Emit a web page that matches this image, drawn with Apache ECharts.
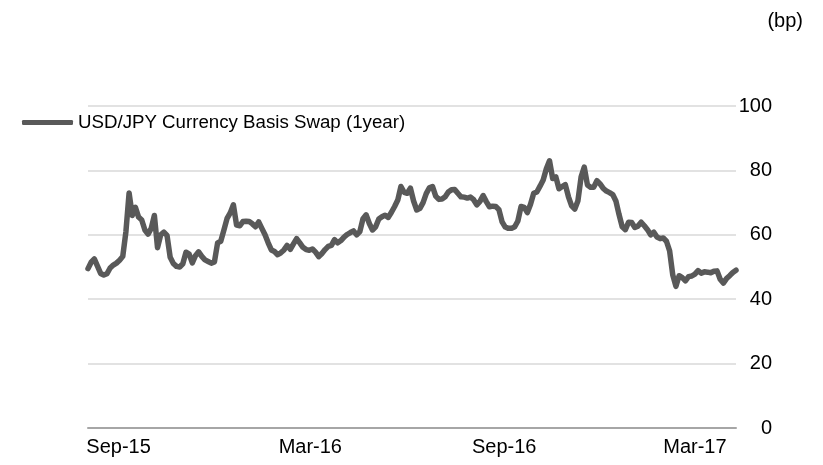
<!DOCTYPE html>
<html>
<head>
<meta charset="utf-8">
<script src="https://cdn.jsdelivr.net/npm/echarts@6/dist/echarts.min.js"></script>
<style>
html,body{margin:0;padding:0;background:#fff;}
#chart{width:823px;height:465px;}
</style>
</head>
<body>
<div id="chart"></div>
<script>
// Series: USD/JPY Currency Basis Swap (1year), in bp, sampled every 3 days from 2015-08-03
const seriesName = 'USD/JPY Currency Basis Swap (1year)';
const startDate = '2015-08-03';
const stepDays = 3;
const basisValues = [
  49.5, 51.5, 52.5, 50.3, 48.0, 47.5, 47.9, 49.7, 50.6, 51.2,
  52.1, 53.3, 61.0, 73.0, 66.0, 68.5, 65.5, 64.6, 61.5, 60.2,
  62.0, 66.0, 56.0, 60.0, 60.8, 59.8, 53.0, 51.1, 50.2, 50.0,
  51.0, 54.6, 54.0, 51.3, 53.5, 54.7, 53.3, 52.2, 51.7, 51.2,
  51.6, 57.5, 58.0, 61.5, 65.1, 66.8, 69.3, 63.0, 62.8, 64.1,
  64.2, 64.1, 63.4, 62.5, 64.0, 62.0, 60.0, 57.5, 55.3, 54.8,
  53.8, 54.4, 55.3, 56.7, 55.5, 57.2, 58.8, 57.5, 56.1, 55.4,
  55.2, 55.6, 54.6, 53.2, 54.2, 55.4, 56.4, 56.7, 58.5, 57.5,
  58.2, 59.3, 60.1, 60.7, 61.2, 60.0, 61.0, 65.0, 66.2, 63.5,
  61.5, 62.5, 64.9, 65.6, 66.1, 65.4, 67.0, 68.8, 70.8, 75.0,
  73.2, 72.9, 74.5, 70.5, 67.7, 68.2, 70.0, 72.8, 74.6, 75.0,
  72.0, 71.0, 71.1, 71.8, 73.3, 74.0, 74.1, 72.9, 71.8, 71.7,
  71.4, 71.7, 70.9, 69.3, 70.4, 72.2, 70.3, 68.7, 68.9, 68.8,
  67.8, 64.0, 62.4, 62.0, 62.0, 62.5, 64.3, 68.8, 68.5, 66.9,
  69.5, 72.9, 73.3, 75.1, 77.0, 80.5, 83.0, 77.5, 78.0, 74.3,
  75.0, 75.6, 71.8, 69.0, 68.0, 70.6, 78.0, 81.0, 75.5, 74.8,
  74.8, 76.8, 75.8, 74.4, 73.6, 73.1, 72.5, 70.5, 66.3, 62.5,
  61.6, 63.9, 63.8, 62.3, 62.7, 63.9, 62.8, 61.6, 60.0, 60.8,
  59.3, 58.8, 59.0, 58.0, 55.0, 47.5, 44.0, 47.3, 46.7, 45.7,
  47.0, 47.2, 47.8, 48.9, 48.1, 48.5, 48.4, 48.2, 48.7, 48.8,
  46.2, 45.0, 46.4, 47.3, 48.3, 49.0
];
const xTickDates = ['2015-09-01', '2016-03-01', '2016-09-01', '2017-03-01'];
const xTickLabels = ['Sep-15', 'Mar-16', 'Sep-16', 'Mar-17'];
const yTicks = [0, 20, 40, 60, 80, 100];
const axisStart = '2015-08-03';
const axisEnd = '2017-04-09';

const DAY = 86400000;
const t0 = Date.parse(startDate + 'T00:00:00Z');
const seriesData = basisValues.map((v, i) => [t0 + i * stepDays * DAY, v]);
const tickTimes = xTickDates.map(d => Date.parse(d + 'T00:00:00Z'));

const chart = echarts.init(document.getElementById('chart'));
chart.setOption({
  animation: false,
  backgroundColor: '#ffffff',
  textStyle: { fontFamily: 'Liberation Sans, Arial, sans-serif' },
  graphic: [{
    type: 'text', right: 20, top: 11,
    style: { text: '(bp)', font: '20px "Liberation Sans", Arial, sans-serif', fill: '#000' }
  }],
  legend: {
    left: 22, top: 113, padding: 0,
    itemWidth: 51, itemHeight: 5,
    icon: 'roundRect',
    textStyle: { fontSize: 18.7, color: '#000', fontFamily: 'Liberation Sans, Arial, sans-serif' },
    data: [seriesName]
  },
  grid: { left: 88, right: 87, top: 106, bottom: 37, containLabel: false },
  xAxis: {
    type: 'value',
    min: Date.parse(axisStart + 'T00:00:00Z'),
    max: Date.parse(axisEnd + 'T00:00:00Z'),
    axisLine: { show: true, lineStyle: { color: '#a6a6a6', width: 2 } },
    axisTick: { show: false },
    splitLine: { show: false },
    axisLabel: {
      customValues: tickTimes,
      showMinLabel: true, showMaxLabel: true,
      fontSize: 20, color: '#000', margin: 9,
      hideOverlap: false,
      formatter: function (val) {
        const idx = tickTimes.indexOf(val);
        return idx >= 0 ? xTickLabels[idx] : '';
      }
    }
  },
  yAxis: {
    type: 'value',
    position: 'right',
    min: yTicks[0], max: yTicks[yTicks.length - 1], interval: 20,
    axisLine: { show: false },
    axisTick: { show: false },
    splitLine: { show: true, lineStyle: { color: '#d9d9d9', width: 1.5 } },
    axisLabel: { fontSize: 20, color: '#000', align: 'right', margin: 36 }
  },
  series: [{
    name: seriesName,
    type: 'line',
    data: seriesData,
    showSymbol: false,
    symbol: 'none',
    lineStyle: { color: '#595959', width: 5.5, join: 'round', cap: 'round' },
    itemStyle: { color: '#595959' }
  }]
});
</script>
</body>
</html>
